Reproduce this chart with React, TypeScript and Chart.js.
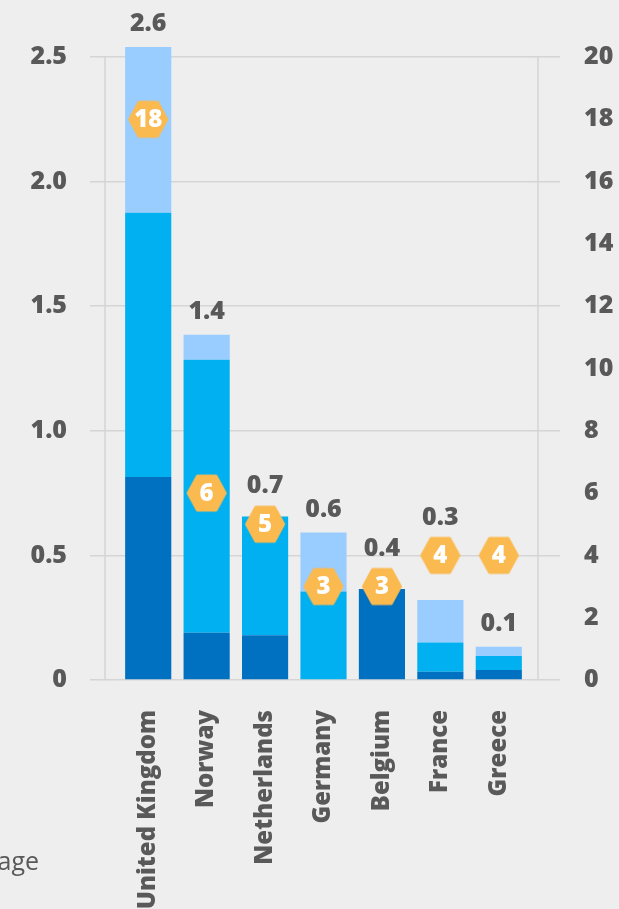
import React, { useEffect, useRef } from "react";
import { Chart, registerables } from "chart.js";

Chart.register(...registerables);

const categories = ["United Kingdom", "Norway", "Netherlands", "Germany", "Belgium", "France", "Greece"];
const darkSeries = [0.815, 0.19, 0.18, 0, 0.365, 0.033, 0.04];
const midSeries = [1.06, 1.095, 0.476, 0.355, 0, 0.117, 0.056];
const lightSeries = [0.665, 0.1, 0, 0.237, 0, 0.171, 0.037];
const totalLabels = ["2.6", "1.4", "0.7", "0.6", "0.4", "0.3", "0.1"];
const hexValues = [18, 6, 5, 3, 3, 4, 4];
const leftMax = 2.5;
const leftStep = 0.5;
const rightMax = 20;
const rightStep = 2;

const FONT = "'Open Sans', 'DejaVu Sans', sans-serif";
const TEXT = "#595959";
const GRID = "#d5d5d5";
const HEX = "#FBBA4F";

function makeHex(color: string): HTMLCanvasElement {
  const c = document.createElement("canvas");
  c.width = 44;
  c.height = 42;
  const ctx = c.getContext("2d")!;
  const cx = 22, cy = 21, r = 18.5;
  ctx.beginPath();
  for (let i = 0; i < 6; i++) {
    const a = (Math.PI / 3) * i;
    const x = cx + r * Math.cos(a);
    const y = cy + r * Math.sin(a) * 1.06;
    if (i === 0) ctx.moveTo(x, y);
    else ctx.lineTo(x, y);
  }
  ctx.closePath();
  ctx.fillStyle = color;
  ctx.strokeStyle = color;
  ctx.lineWidth = 3;
  ctx.lineJoin = "round";
  ctx.fill();
  ctx.stroke();
  return c;
}

const sideLines = {
  id: "sideLines",
  beforeDatasetsDraw(chart: any) {
    const { ctx, chartArea } = chart;
    ctx.save();
    ctx.strokeStyle = GRID;
    ctx.lineWidth = 1.5;
    [chartArea.left - 14, chartArea.right + 10].forEach((x: number) => {
      ctx.beginPath();
      ctx.moveTo(x, chartArea.top);
      ctx.lineTo(x, chartArea.bottom);
      ctx.stroke();
    });
    ctx.restore();
  },
};

const labelsPlugin = {
  id: "labelsPlugin",
  afterDatasetsDraw(chart: any) {
    const { ctx } = chart;
    const yScale = chart.scales.y;
    const y1Scale = chart.scales.y1;
    const xScale = chart.scales.x;
    ctx.save();
    ctx.textAlign = "center";
    ctx.textBaseline = "middle";
    const hexMeta = chart.getDatasetMeta(3);
    ctx.font = `800 24px ${FONT}`;
    ctx.fillStyle = "#ffffff";
    hexMeta.data.forEach((pt: any, i: number) => {
      ctx.fillText(String(hexValues[i]), pt.x, pt.y + 1);
    });
    ctx.font = `800 25px ${FONT}`;
    ctx.fillStyle = TEXT;
    categories.forEach((_, i) => {
      const total = darkSeries[i] + midSeries[i] + lightSeries[i];
      const top = yScale.getPixelForValue(total);
      const hc = y1Scale.getPixelForValue(hexValues[i]);
      let c = top - 23;
      const gap = 6;
      if (c - 9 < hc + 18 + gap && c + 9 > hc - 18 - gap) {
        c = hc - 38;
      }
      ctx.fillText(totalLabels[i], xScale.getPixelForValue(i), c);
    });
    ctx.restore();
  },
};

export default function App() {
  const ref = useRef<HTMLCanvasElement | null>(null);

  useEffect(() => {
    if (!ref.current) return;
    const hexImg = makeHex(HEX);
    const barCommon = {
      type: "bar" as const,
      yAxisID: "y",
      barPercentage: 0.79,
      categoryPercentage: 1,
      borderWidth: 0,
      clip: false as any,
      order: 1,
    };
    const tickFont = { family: FONT, size: 25, weight: "800" } as any;
    const chart = new Chart(ref.current, {
      type: "bar",
      data: {
        labels: categories,
        datasets: [
          { ...barCommon, label: "dark", data: darkSeries, backgroundColor: "#0070C0" },
          { ...barCommon, label: "mid", data: midSeries, backgroundColor: "#00B0F0" },
          { ...barCommon, label: "light", data: lightSeries, backgroundColor: "#99CCFF" },
          {
            type: "line" as const,
            label: "hex",
            data: hexValues,
            yAxisID: "y1",
            showLine: false,
            pointStyle: hexImg as any,
            pointRadius: 18,
            order: 0,
            clip: false as any,
          } as any,
        ],
      },
      options: {
        responsive: false,
        animation: false,
        layout: { padding: { top: 57, left: 0, right: 0, bottom: 0 } },
        plugins: { legend: { display: false }, tooltip: { enabled: false } },
        scales: {
          x: {
            stacked: true,
            grid: { display: false, drawTicks: false },
            border: { display: false },
            ticks: {
              minRotation: 90,
              maxRotation: 90,
              padding: 30,
              color: TEXT,
              font: { family: FONT, size: 24, weight: "800" } as any,
            },
            afterFit: (s: any) => {
              s.height = 229;
            },
          },
          y: {
            stacked: true,
            position: "left",
            min: 0,
            max: leftMax,
            grid: { color: GRID, lineWidth: 1.5, tickLength: 29 },
            border: { display: false },
            ticks: {
              stepSize: leftStep,
              padding: 23,
              color: TEXT,
              font: tickFont,
              callback: (v: any) => (Number(v) === 0 ? "0" : Number(v).toFixed(1)),
            },
            afterFit: (s: any) => {
              s.width = 119;
            },
          },
          y1: {
            stacked: false,
            position: "right",
            min: 0,
            max: rightMax,
            grid: {
              drawOnChartArea: false,
              tickLength: 32,
              lineWidth: 1.5,
              color: (c: any) => (c.tick && c.tick.value % 4 === 0 ? GRID : "rgba(0,0,0,0)"),
            },
            border: { display: false },
            ticks: {
              stepSize: rightStep,
              padding: 24,
              color: TEXT,
              font: tickFont,
            },
            afterFit: (s: any) => {
              s.width = 91;
            },
          },
        },
      },
      plugins: [sideLines, labelsPlugin],
    } as any);
    return () => chart.destroy();
  }, []);

  return (
    <div style={{ position: "fixed", left: 0, top: 0, width: 619, height: 909, background: "#eeeeee", overflow: "hidden" }}>
      <canvas ref={ref} width={619} height={909} style={{ position: "absolute", left: 0, top: 0, width: 619, height: 909 }} />
      <div
        style={{
          position: "absolute",
          left: -100,
          width: 139,
          top: 845,
          textAlign: "right",
          fontFamily: FONT,
          fontSize: 25,
          color: TEXT,
          lineHeight: "30px",
        }}
      >
        age
      </div>
    </div>
  );
}
